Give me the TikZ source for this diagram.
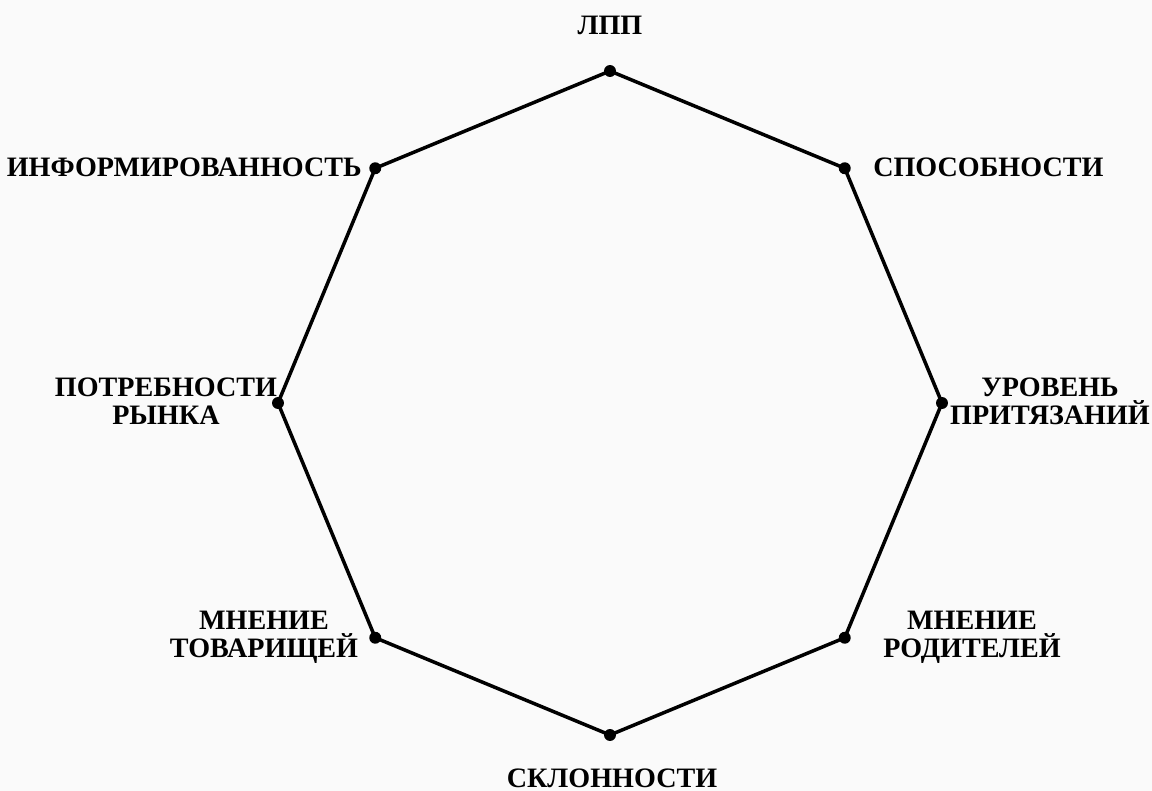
\documentclass[tikz,border=0pt]{standalone}
\usepackage{fontspec}
\setmainfont{Liberation Serif}
\begin{document}
\begin{tikzpicture}[
		lbl/.style={inner sep=0pt,font=\bfseries\fontsize{20}{20}\selectfont,align=center},
		dot/.style={circle,fill=black,inner sep=0pt,minimum size=8.5pt}]
			\fill[white!98!black] (-15.25,-9.7) rectangle (13.55,10.075);
			\useasboundingbox (-15.25,-9.7) rectangle (13.55,10.075);
			\foreach \a/\n in {90/lpp,45/spos,0/urov,-45/rod,-90/skl,-135/tov,180/potr,135/inf}
				\coordinate (\n) at (\a:8.3);
			\draw[line width=2.5pt,line join=round] (lpp) -- (spos) -- (urov) -- (rod) -- (skl) -- (tov) -- (potr) -- (inf) -- cycle;
			\foreach \n in {lpp,spos,urov,rod,skl,tov,potr,inf}
				\node[dot] (d-\n) at (\n) {};
			
			\node[lbl,anchor=base] (t-lpp) at (0,9.2) {ЛПП};
			\node[lbl,anchor=base west] (t-spos) at (6.575,5.65) {СПОСОБНОСТИ};
			\node[lbl,anchor=base] (t-urov) at (11.0,-0.55) {УРОВЕНЬ\\ПРИТЯЗАНИЙ};
			\node[lbl,anchor=base] (t-rod) at (9.05,-6.375) {МНЕНИЕ\\РОДИТЕЛЕЙ};
			\node[lbl,anchor=base] (t-skl) at (0.05,-9.6) {СКЛОННОСТИ};
			\node[lbl,anchor=base] (t-tov) at (-8.65,-6.375) {МНЕНИЕ\\ТОВАРИЩЕЙ};
			\node[lbl,anchor=base] (t-potr) at (-11.1,-0.55) {ПОТРЕБНОСТИ\\РЫНКА};
			\node[lbl,anchor=base east] (t-inf) at (-6.2,5.65) {ИНФОРМИРОВАННОСТЬ};
		\end{tikzpicture}
\end{document}
